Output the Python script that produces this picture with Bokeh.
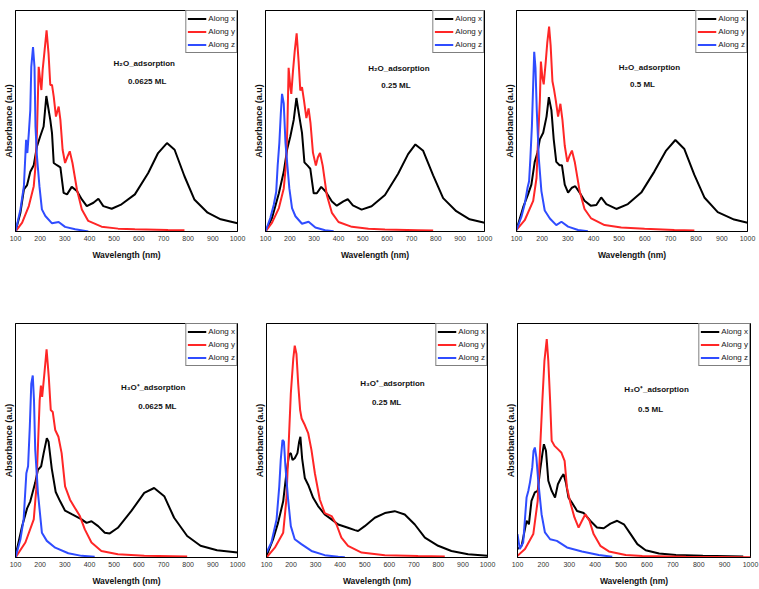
from bokeh.plotting import figure
from bokeh.layouts import row, column
from bokeh.models import Range1d, FixedTicker, Label
from bokeh.embed import file_html
from bokeh.resources import INLINE

FONT = "Liberation Sans"
X_TICKS = [100, 200, 300, 400, 500, 600, 700, 800, 900, 1000]
SERIES_NAMES = ["Along x", "Along y", "Along z"]
SERIES_COLORS = ["#000000", "#ff2626", "#2f4cff"]

# ---- panel 1 : H2O 0.0625 ML ----
P1_X_NM = [100,120,134,147,160,174,187,200,214,225,241,248,255,268,282,295,309,328,349,369,389,416,436,456,490,530,584,638,678,714,745,785,825,879,932,1000]
P1_X_AB = [0,0.085,0.19,0.21,0.27,0.30,0.385,0.43,0.475,0.613,0.505,0.445,0.31,0.30,0.29,0.175,0.168,0.202,0.183,0.145,0.115,0.13,0.148,0.115,0.103,0.123,0.168,0.265,0.355,0.40,0.37,0.25,0.145,0.085,0.055,0.037]
P1_Y_NM = [100,127,154,174,181,187,194,200,205,210,218,226,234,241,248,255,264,275,282,291,301,311,320,331,349,369,395,449,516,584,718,785]
P1_Y_AB = [0,0.04,0.115,0.205,0.295,0.445,0.745,0.685,0.64,0.73,0.82,0.91,0.805,0.663,0.663,0.61,0.52,0.565,0.505,0.37,0.31,0.34,0.363,0.31,0.19,0.10,0.048,0.022,0.013,0.01,0.007,0.006]
P1_Z_NM = [100,120,134,143,148,154,160,164,171,177,181,187,197,207,221,248,275,301,342,395]
P1_Z_AB = [0,0.10,0.205,0.415,0.355,0.445,0.55,0.745,0.835,0.745,0.475,0.34,0.205,0.10,0.07,0.037,0.043,0.021,0.01,0.0]

# ---- panel 2 : H2O 0.25 ML ----
P2_X_NM = [100,127,155,175,189,202,216,227,239,250,260,273,284,298,311,329,348,373,393,420,438,459,495,536,591,645,686,716,748,789,830,884,939,1000]
P2_X_AB = [0,0.062,0.173,0.27,0.372,0.43,0.505,0.604,0.52,0.446,0.313,0.298,0.284,0.173,0.173,0.202,0.18,0.136,0.117,0.136,0.146,0.118,0.099,0.114,0.165,0.261,0.35,0.394,0.365,0.254,0.151,0.092,0.055,0.04]
P2_Y_NM = [100,127,155,175,185,190,195,202,206,213,220,228,236,243,250,258,268,277,285,295,307,315,324,335,352,373,400,455,523,591,727,789]
P2_Y_AB = [0,0.04,0.106,0.195,0.313,0.476,0.741,0.653,0.623,0.727,0.815,0.897,0.771,0.638,0.653,0.594,0.513,0.557,0.49,0.357,0.298,0.335,0.355,0.298,0.165,0.084,0.043,0.021,0.012,0.009,0.006,0.004]
P2_Z_NM = [100,120,134,144,150,157,163,168,175,182,190,198,209,223,250,277,305,345,380]
P2_Z_AB = [0,0.062,0.121,0.18,0.298,0.402,0.535,0.623,0.579,0.402,0.298,0.195,0.106,0.069,0.035,0.044,0.018,0.006,0.001]

# ---- panel 3 : H2O 0.5 ML ----
P3_X_NM = [100,126,145,158,171,182,191,204,217,226,236,245,255,268,277,288,301,316,329,346,365,389,411,430,450,489,534,586,637,683,719,754,793,832,884,948,1000]
P3_X_AB = [0.007,0.11,0.168,0.212,0.315,0.359,0.417,0.447,0.52,0.608,0.549,0.417,0.315,0.30,0.30,0.212,0.176,0.198,0.205,0.176,0.139,0.117,0.12,0.154,0.124,0.102,0.124,0.176,0.271,0.366,0.414,0.373,0.256,0.154,0.088,0.054,0.04]
P3_Y_NM = [100,132,165,178,184,191,195,201,206,214,220,227,233,240,246,253,262,271,279,288,298,307,316,327,346,365,391,443,508,599,715,793]
P3_Y_AB = [0.007,0.051,0.139,0.242,0.417,0.593,0.769,0.695,0.666,0.769,0.856,0.927,0.842,0.68,0.644,0.593,0.52,0.578,0.505,0.388,0.315,0.344,0.366,0.315,0.183,0.102,0.059,0.029,0.018,0.012,0.007,0.004]
P3_Z_NM = [100,119,132,143,149,154,160,165,169,174,179,187,197,210,230,255,275,301,340,378]
P3_Z_AB = [0.007,0.066,0.124,0.198,0.227,0.33,0.476,0.666,0.813,0.739,0.549,0.33,0.183,0.095,0.059,0.029,0.044,0.022,0.007,0.001]

# ---- panel 4 : H3O+ 0.0625 ML ----
P4_X_NM = [100,127,147,160,180,191,196,204,214,227,234,247,263,281,301,328,368,388,408,435,462,482,515,569,622,662,703,743,796,850,917,1000]
P4_X_AB = [0.007,0.135,0.21,0.24,0.32,0.375,0.38,0.39,0.445,0.51,0.495,0.38,0.28,0.24,0.20,0.185,0.163,0.148,0.155,0.134,0.106,0.103,0.127,0.198,0.276,0.297,0.262,0.17,0.092,0.05,0.031,0.021]
P4_Y_NM = [100,140,174,184,191,198,203,208,217,226,235,243,251,261,274,287,301,321,341,361,381,408,448,515,622,796]
P4_Y_AB = [0,0.064,0.163,0.29,0.474,0.672,0.735,0.686,0.785,0.89,0.77,0.63,0.622,0.545,0.516,0.446,0.304,0.247,0.212,0.177,0.12,0.064,0.028,0.014,0.007,0.004]
P4_Z_NM = [100,120,133,144,151,158,164,170,175,180,191,207,227,261,314,368,421]
P4_Z_AB = [0,0.078,0.163,0.36,0.39,0.56,0.743,0.778,0.672,0.46,0.276,0.106,0.071,0.042,0.018,0.007,0.003]

# ---- panel 5 : H3O+ 0.25 ML ----
P5_X_NM = [100,127,147,168,181,192,199,206,215,226,233,238,245,256,270,290,310,337,365,392,432,460,473,500,541,582,622,663,704,745,799,853,921,1000]
P5_X_AB = [0.007,0.078,0.148,0.24,0.36,0.44,0.446,0.417,0.424,0.446,0.495,0.516,0.424,0.34,0.31,0.255,0.22,0.184,0.163,0.141,0.127,0.117,0.113,0.134,0.17,0.19,0.198,0.184,0.141,0.085,0.05,0.028,0.014,0.007]
P5_Y_NM = [100,134,168,181,191,199,209,215,222,229,237,243,256,270,283,297,317,337,365,385,405,432,487,582,717,826]
P5_Y_AB = [0,0.042,0.106,0.248,0.502,0.70,0.849,0.905,0.87,0.743,0.63,0.594,0.566,0.53,0.46,0.36,0.248,0.19,0.177,0.141,0.085,0.05,0.021,0.01,0.006,0.004]
P5_Z_NM = [100,120,141,152,158,165,171,177,188,199,215,242,283,337,392,419]
P5_Z_AB = [0.021,0.064,0.163,0.304,0.417,0.502,0.495,0.389,0.248,0.134,0.078,0.057,0.028,0.01,0.003,0.001]

# ---- panel 6 : H3O+ 0.5 ML ----
P6_X_NM = [100,116,135,144,154,167,178,187,196,202,210,219,232,245,256,269,278,287,297,310,330,356,381,407,433,459,485,511,537,563,595,647,712,816,972]
P6_X_AB = [0.036,0.05,0.157,0.142,0.242,0.278,0.285,0.37,0.442,0.484,0.456,0.328,0.285,0.256,0.313,0.342,0.356,0.32,0.256,0.235,0.199,0.19,0.157,0.128,0.125,0.145,0.157,0.142,0.10,0.057,0.031,0.017,0.011,0.007,0.004]
P6_Y_NM = [100,129,161,178,187,196,204,213,219,226,232,243,256,269,282,291,304,320,336,349,362,378,394,420,453,518,582,751,1000]
P6_Y_AB = [0.007,0.036,0.10,0.242,0.456,0.67,0.84,0.933,0.84,0.67,0.499,0.477,0.463,0.449,0.413,0.299,0.235,0.171,0.128,0.157,0.185,0.157,0.10,0.05,0.026,0.011,0.006,0.003,0.001]
P6_Z_NM = [100,109,122,135,142,148,157,162,167,173,180,193,206,226,252,291,349,414,466]
P6_Z_AB = [0.10,0.036,0.064,0.256,0.285,0.32,0.385,0.456,0.47,0.427,0.328,0.185,0.107,0.078,0.071,0.043,0.026,0.011,0.003]

TITLES = ["H\u2082O_adsorption", "H\u2082O_adsorption", "H\u2082O_adsorption",
          "H\u2083O\u207a_adsorption", "H\u2083O\u207a_adsorption", "H\u2083O\u207a_adsorption"]
COVERAGES = ["0.0625 ML", "0.25 ML", "0.5 ML", "0.0625 ML", "0.25 ML", "0.5 ML"]


def make_panel(series, title, coverage, w, h, borders, pos1, pos2):
    left, right, top, bottom = borders
    p = figure(width=w, height=h, output_backend="svg", toolbar_location=None,
               x_range=Range1d(100, 1000), y_range=Range1d(0, 1),
               min_border=0, min_border_left=left, min_border_right=right,
               min_border_top=top, min_border_bottom=bottom)
    p.background_fill_color = "white"
    p.border_fill_color = "white"
    p.outline_line_color = "black"
    p.outline_line_width = 1
    p.xgrid.visible = False
    p.ygrid.visible = False

    for (nm, ab), name, color in zip(series, SERIES_NAMES, SERIES_COLORS):
        p.line(nm, ab, line_color=color, line_width=2, legend_label=name)

    xa = p.xaxis[0]
    xa.ticker = FixedTicker(ticks=X_TICKS)
    xa.major_tick_in = 0
    xa.major_tick_out = 0
    xa.minor_tick_in = 0
    xa.minor_tick_out = 0
    xa.major_label_standoff = 4
    xa.major_label_text_font = FONT
    xa.major_label_text_font_size = "7px"
    xa.major_label_text_color = "#333333"
    xa.axis_label = "Wavelength (nm)"
    xa.axis_label_text_font = FONT
    xa.axis_label_text_font_size = "8.5px"
    xa.axis_label_text_font_style = "bold"
    xa.axis_label_text_color = "#111111"
    xa.axis_label_standoff = 6
    xa.axis_line_color = "black"

    ya = p.yaxis[0]
    ya.ticker = FixedTicker(ticks=[])
    ya.major_tick_in = 0
    ya.major_tick_out = 0
    ya.minor_tick_in = 0
    ya.minor_tick_out = 0
    ya.major_label_standoff = 0
    ya.major_label_text_font_size = "0px"
    ya.axis_label = "Absorbance (a.u)"
    ya.axis_label_text_font = FONT
    ya.axis_label_text_font_size = "9px"
    ya.axis_label_text_font_style = "bold"
    ya.axis_label_text_color = "#111111"
    ya.axis_label_standoff = 2
    ya.axis_line_color = "black"

    for text, (x, y) in ((title, pos1), (coverage, pos2)):
        p.add_layout(Label(x=x, y=y, text=text, text_align="center",
                           text_baseline="middle", text_font=FONT,
                           text_font_size="8px", text_font_style="bold",
                           text_color="#111111"))

    lg = p.legend[0]
    lg.location = "top_right"
    lg.margin = 0
    lg.padding = 1
    lg.spacing = 0
    lg.glyph_width = 19
    lg.glyph_height = 13
    lg.label_height = 13
    lg.label_standoff = 2
    lg.label_text_font = FONT
    lg.label_text_font_size = "8px"
    lg.label_text_color = "#222222"
    lg.border_line_color = "black"
    lg.border_line_width = 1
    lg.background_fill_alpha = 1
    return p


panels = [
    dict(series=[(P1_X_NM, P1_X_AB), (P1_Y_NM, P1_Y_AB), (P1_Z_NM, P1_Z_AB)],
         w=250, h=290, borders=(13, 13, 10, 58), pos1=(622, 0.761), pos2=(634, 0.68)),
    dict(series=[(P2_X_NM, P2_X_AB), (P2_Y_NM, P2_Y_AB), (P2_Z_NM, P2_Z_AB)],
         w=250, h=290, borders=(14, 16, 6, 59), pos1=(648, 0.738), pos2=(636, 0.662)),
    dict(series=[(P3_X_NM, P3_X_AB), (P3_Y_NM, P3_Y_AB), (P3_Z_NM, P3_Z_AB)],
         w=259, h=290, borders=(16, 12, 4, 56), pos1=(618, 0.743), pos2=(591, 0.665)),
    dict(series=[(P4_X_NM, P4_X_AB), (P4_Y_NM, P4_Y_AB), (P4_Z_NM, P4_Z_AB)],
         w=250, h=299, borders=(13, 13, 33, 31), pos1=(658, 0.728), pos2=(675, 0.647)),
    dict(series=[(P5_X_NM, P5_X_AB), (P5_Y_NM, P5_Y_AB), (P5_Z_NM, P5_Z_AB)],
         w=250, h=299, borders=(16, 13, 32, 31), pos1=(613, 0.742), pos2=(589, 0.661)),
    dict(series=[(P6_X_NM, P6_X_AB), (P6_Y_NM, P6_Y_AB), (P6_Z_NM, P6_Z_AB)],
         w=259, h=299, borders=(17, 9, 31, 32), pos1=(637, 0.716), pos2=(614, 0.631)),
]

figs = [make_panel(d["series"], t, c, d["w"], d["h"], d["borders"], d["pos1"], d["pos2"])
        for d, t, c in zip(panels, TITLES, COVERAGES)]

layout = column(row(figs[0], figs[1], figs[2]), row(figs[3], figs[4], figs[5]))

open("out.html", "w").write(file_html(layout, INLINE))
